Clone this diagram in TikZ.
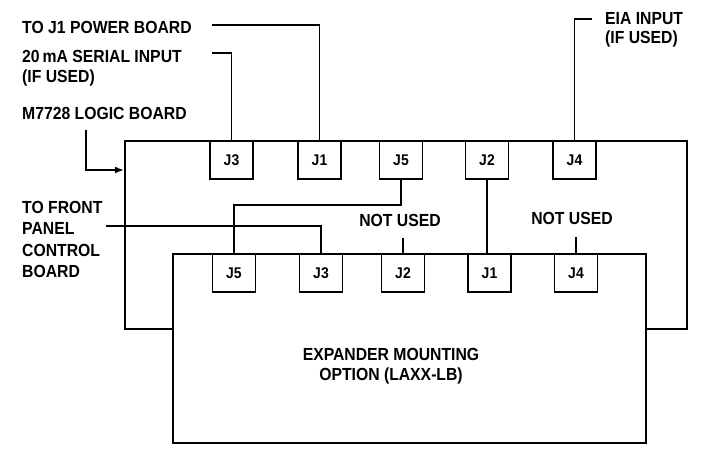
\documentclass[tikz,border=0pt]{standalone}
\usepackage{fontspec}
\setmainfont{Liberation Sans}[FakeStretch=0.9]
\usetikzlibrary{arrows.meta}

\begin{document}
\begin{tikzpicture}[x=1pt, y=-1pt, >={Latex[length=9pt,width=7pt]},
  board/.style={draw, line width=2.4pt, fill=white, anchor=north west, inner sep=0pt},
  conn/.style={draw, line width=1.7pt, fill=white, minimum width=43pt, minimum height=38pt,
    anchor=north, inner sep=0pt, font=\fontsize{15.5}{18}\selectfont\bfseries},
  wire/.style={line width=1.7pt},
  lbl/.style={font=\fontsize{17.5}{20.5}\selectfont\bfseries, inner sep=0pt, align=left}]
  \useasboundingbox (0,0) rectangle (710,448);
  % the two boards, expander in front
  \node[board, minimum width=562pt, minimum height=188pt] (logic) at (124,140) {};
  \node[board, minimum width=473pt, minimum height=189pt] (exp) at (172,253) {};
  \node[lbl, align=center, anchor=north] (expLbl) at (391,348) {EXPANDER MOUNTING\\OPTION (LAXX-LB)};
  % connectors on logic board
  \node[conn] (uJ3) at (231.5,140) {J3};
  \node[conn] (uJ1) at (319.5,140) {J1};
  \node[conn] (uJ5) at (401,140) {J5};
  \node[conn] (uJ2) at (487,140) {J2};
  \node[conn] (uJ4) at (574.5,140) {J4};
  % connectors on expander
  \node[conn] (lJ5) at (234,253) {J5};
  \node[conn] (lJ3) at (321,253) {J3};
  \node[conn] (lJ2) at (403,253) {J2};
  \node[conn] (lJ1) at (489.5,253) {J1};
  \node[conn] (lJ4) at (576,253) {J4};
  % labels
  \node[lbl, anchor=north west] (pwrLbl) at (22,21) {TO J1 POWER BOARD};
  \node[lbl, anchor=north west] (serLbl) at (22,50) {20\,mA SERIAL INPUT\\(IF USED)};
  \node[lbl, anchor=north west] (logicLbl) at (22,107) {M7728 LOGIC BOARD};
  \node[lbl, anchor=north west, font=\fontsize{17.5}{19}\selectfont\bfseries] (eiaLbl) at (605,12) {EIA INPUT\\(IF USED)};
  \node[lbl, anchor=north west, font=\fontsize{17.5}{21.3}\selectfont\bfseries] (fpLbl) at (22,201) {TO FRONT\\PANEL\\CONTROL\\BOARD};
  \node[lbl, anchor=north] (nuA) at (400,214) {NOT USED};
  \node[lbl, anchor=north] (nuB) at (572,212) {NOT USED};
  % cables
  \coordinate (pwrEnd) at (212,25);
  \coordinate (serEnd) at (212,53);
  \coordinate (logicEnd) at (86,130);
  \coordinate (eiaEnd) at (592,19);
  \coordinate (fpEnd) at (106,226);
  \draw[wire] (pwrEnd) -| (uJ1.north);
  \draw[wire] (serEnd) -| (uJ3.north);
  \draw[wire,->] (logicEnd) |- ([yshift=-30pt]logic.north west);
  \draw[wire] (eiaEnd) -| (uJ4.north);
  \draw[wire] (uJ5.south) -- ++(0,25) -| (lJ5.north);
  \draw[wire] (uJ2.south) -- (uJ2.south |- lJ1.north);
  \draw[wire] (fpEnd) -| (lJ3.north);
  \draw[wire] (lJ2.north) -- ++(0,-15);
  \draw[wire] (lJ4.north) -- ++(0,-16);
\end{tikzpicture}
\end{document}
